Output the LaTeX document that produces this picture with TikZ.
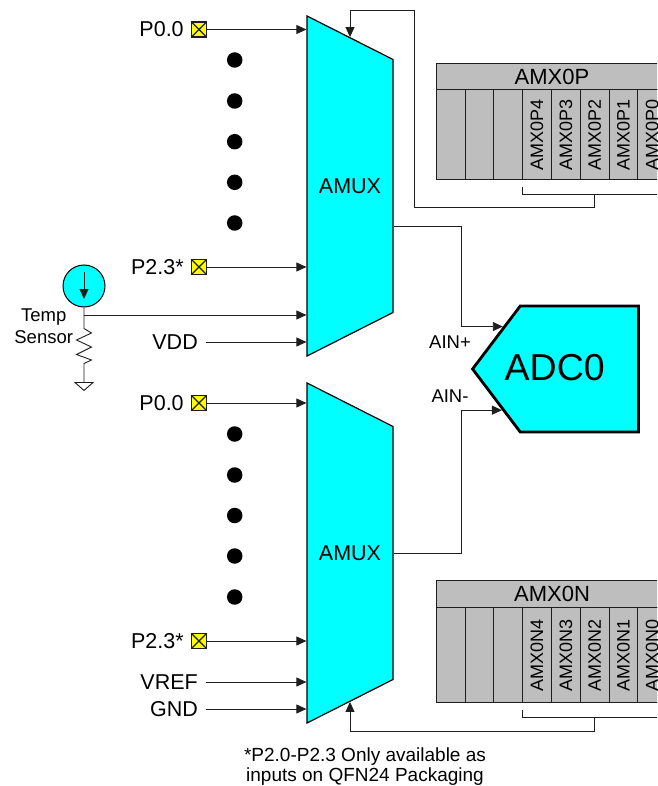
\documentclass[tikz,border=0pt]{standalone}
\usepackage{fontspec}
\setmainfont{Liberation Sans}
\usetikzlibrary{arrows.meta, positioning, shapes.geometric, shapes.symbols, calc, matrix}
\definecolor{mycyan}{RGB}{0,255,255}
\definecolor{myyellow}{RGB}{255,255,0}
\definecolor{mygray}{RGB}{190,190,190}
\definecolor{myline}{RGB}{30,30,30}
\tikzset{
    sig/.style={draw=myline,line width=0.9pt,-{Triangle[length=10pt,width=9pt]}},
    wire/.style={draw=myline,line width=0.9pt},
    muxbox/.style={draw,line width=1.2pt,fill=mycyan,trapezium,shape border rotate=270,
        trapezium left angle=55,trapezium right angle=55,trapezium stretches body=true,
        minimum width=340pt,minimum height=86pt,inner sep=0pt,font=\fontsize{21.5}{24}\selectfont},
    pinbox/.style={draw=myline,line width=1.2pt,fill=myyellow,minimum size=15pt,inner sep=0pt,
        path picture={\draw[line width=1.1pt,myline] (path picture bounding box.north west) -- (path picture bounding box.south east)
            (path picture bounding box.north east) -- (path picture bounding box.south west);}},
    lbl/.style={inner sep=0pt,font=\fontsize{21.5}{24}\selectfont},
    smalllbl/.style={inner sep=0pt,font=\fontsize{18.5}{22}\selectfont,align=center},
    dotmark/.style={circle,fill=black,minimum size=15.5pt,inner sep=0pt},
    regtitle/.style={draw=myline,line width=1pt,fill=mygray,anchor=north west,minimum width=231pt,
        inner sep=0pt,font=\fontsize{22}{24}\selectfont},
    regcells/.style={matrix of nodes,nodes in empty cells,anchor=north west,inner sep=0pt,
        column sep=-1pt,
        nodes={draw=myline,line width=1pt,fill=mygray,minimum width=28.8pt,inner sep=0pt,anchor=center,
            font=\fontsize{18}{20}\selectfont}},
}
\begin{document}
\begin{tikzpicture}[x=1pt,y=-1pt]
    \path[use as bounding box,clip] (0,0) rectangle (657,786);

    % Positive and negative multiplexers
    \node[muxbox] (amuxp) at (350,186) {AMUX};
    \node[muxbox] (amuxn) at (350,553) {AMUX};

    % ADC
    \node[draw,line width=2.8pt,fill=mycyan,signal,signal to=west,signal from=nowhere,signal pointer angle=105.8,
        minimum width=166pt,minimum height=126pt,inner sep=0pt,font=\fontsize{37.5}{40}\selectfont] (adc) at (579.4,369) {\phantom{ADC0}};
    \node[inner sep=0pt,font=\fontsize{37.5}{40}\selectfont] (adclabel) at (554.7,367.5) {ADC0};
    \node[smalllbl] (ainp) at (450,342) {AIN+};
    \node[smalllbl] (ainn) at (450,396) {AIN-};

    % Outputs of the multiplexers
    \draw[sig] ($(amuxp.east)+(0,40)$) -- ++(68,0) |- (adc.151.9);
    \draw[sig] (amuxn.east) -- ++(68,0) |- (adc.208.1);

    % Inputs of the upper multiplexer
    \node[pinbox] (pinpa) at (199,29.5) {};
    \node[lbl,left=7pt of pinpa] (lblpa) {P0.0};
    \node[pinbox] (pinpb) at (199,267) {};
    \node[lbl,left=7pt of pinpb] (lblpb) {P2.3*};
    \node[lbl,anchor=east] (vdd) at (198,342) {VDD};
    \draw[sig] (pinpa.east) -- (pinpa.east -| amuxp.west);
    \draw[sig] (pinpb.east) -- (pinpb.east -| amuxp.west);
    \draw[sig] ([xshift=8pt]vdd.east) -- (vdd.east -| amuxp.west);
    \foreach \y [count=\i] in {60,101,141.7,182.3,223}
        \node[dotmark] (dotp\i) at (234.7,\y) {};

    % Temp sensor
    \node[draw,line width=1pt,circle,fill=mycyan,minimum size=42pt,inner sep=0pt] (tsense) at (84,286) {};
    \coordinate (tsensetop) at (84,272);
    \coordinate (tsensebot) at (84,299);
    \draw[sig] (tsensetop) -- (tsensebot);
    \coordinate (tjoin) at (84,315);
    \draw[sig] (tjoin) -- (tjoin -| amuxp.west);
    \draw[wire] (tsense.south) -- ++(0,21) -- ++(7.5,4.5) -- ++(-15,7) -- ++(15,7) -- ++(-15,7.5) -- ++(15,5.5) -- ++(-7.5,3.5)
        -- ++(0,19) -- ++(-9,0) -- ++(9,8) -- ++(9,-8) -- ++(-9,0);
    \node[smalllbl] (tlabel) at (43.7,326) {Temp\\Sensor};

    % Inputs of the lower multiplexer
    \node[pinbox] (pinna) at (199,403) {};
    \node[lbl,left=7pt of pinna] (lblna) {P0.0};
    \node[pinbox] (pinnb) at (199,641) {};
    \node[lbl,left=7pt of pinnb] (lblnb) {P2.3*};
    \node[lbl,anchor=east] (vref) at (198,682) {VREF};
    \node[lbl,anchor=east] (gnd) at (198,709) {GND};
    \draw[sig] (pinna.east) -- (pinna.east -| amuxn.west);
    \draw[sig] (pinnb.east) -- (pinnb.east -| amuxn.west);
    \draw[sig] ([xshift=8pt]vref.east) -- (vref.east -| amuxn.west);
    \draw[sig] ([xshift=8pt]gnd.east) -- (gnd.east -| amuxn.west);
    \foreach \y [count=\i] in {434,475,515.5,556,597}
        \node[dotmark] (dotn\i) at (234.7,\y) {};

    % AMX0P register
    \node[regtitle,minimum height=26pt] (titlep) at (436,63.5) {AMX0P};
    \matrix[regcells,nodes={minimum height=90pt}] (amxp) at (435.5,89) {
        & & & \rotatebox{90}{AMX0P4} & \rotatebox{90}{AMX0P3} & \rotatebox{90}{AMX0P2} & \rotatebox{90}{AMX0P1} & \rotatebox{90}{AMX0P0} \\
    };
    \coordinate (brkpl) at ($(amxp-1-4.south west)+(0,7)$);
    \coordinate (brkpr) at ($(amxp-1-8.south east)+(0,7)$);
    \draw[wire] (brkpl) -- ++(0,7) coordinate (brkpa) -- ($(brkpr)+(0,7)$) -- (brkpr);
    \coordinate (brkpm) at ($(brkpa)+(72,0)$);
    \draw[sig] (brkpm) -- ++(0,13) -- ++(-180,0) -- ++(0,-197) -| (amuxp.left side);

    % AMX0N register
    \node[regtitle,minimum height=27pt] (titlen) at (436,580) {AMX0N};
    \matrix[regcells,nodes={minimum height=95pt}] (amxn) at (435.5,607) {
        & & & \rotatebox{90}{AMX0N4} & \rotatebox{90}{AMX0N3} & \rotatebox{90}{AMX0N2} & \rotatebox{90}{AMX0N1} & \rotatebox{90}{AMX0N0} \\
    };
    \coordinate (brknl) at ($(amxn-1-4.south west)+(0,7)$);
    \coordinate (brknr) at ($(amxn-1-8.south east)+(0,7)$);
    \draw[wire] (brknl) -- ++(0,7) coordinate (brkna) -- ($(brknr)+(0,7)$) -- (brknr);
    \coordinate (brknm) at ($(brkna)+(72,0)$);
    \draw[sig] (brknm) -- ++(0,14) -| (amuxn.right side);

    % Footnote
    \node[smalllbl,font=\fontsize{19}{20}\selectfont] (note) at (365,766.5) {*P2.0-P2.3 Only available as\\inputs on QFN24 Packaging};
\end{tikzpicture}
\end{document}
